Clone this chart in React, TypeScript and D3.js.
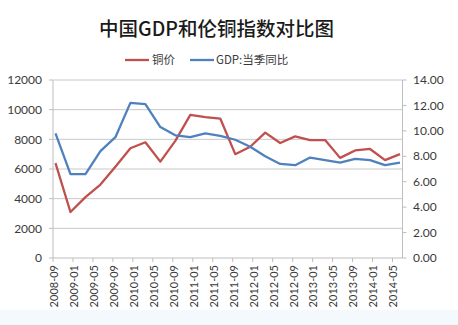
import React from "react";
import * as d3 from "d3";

const title = "中国GDP和伦铜指数对比图";
const seriesNames = ["铜价", "GDP:当季同比"];
const dates = [
  "2008-09", "2008-12", "2009-03", "2009-06", "2009-09", "2009-12",
  "2010-03", "2010-06", "2010-09", "2010-12", "2011-03", "2011-06",
  "2011-09", "2011-12", "2012-03", "2012-06", "2012-09", "2012-12",
  "2013-03", "2013-06", "2013-09", "2013-12", "2014-03", "2014-06",
];
const copper = [
  6400, 3100, 4100, 4950, 6150, 7400, 7800, 6500, 7900, 9650, 9500, 9400,
  7000, 7500, 8450, 7750, 8200, 7950, 7950, 6750, 7250, 7350, 6600, 7000,
];
const gdp = [
  9.8, 6.6, 6.6, 8.4, 9.5, 12.2, 12.1, 10.3, 9.65, 9.5, 9.8, 9.6,
  9.3, 8.75, 8.0, 7.4, 7.3, 7.9, 7.7, 7.5, 7.8, 7.7, 7.3, 7.5,
];
const xTickLabels = [
  "2008-09", "2009-01", "2009-05", "2009-09", "2010-01", "2010-05",
  "2010-09", "2011-01", "2011-05", "2011-09", "2012-01", "2012-05",
  "2012-09", "2013-01", "2013-05", "2013-09", "2014-01", "2014-05",
];
const leftTicks = [0, 2000, 4000, 6000, 8000, 10000, 12000];
const rightTicks = [0, 2, 4, 6, 8, 10, 12, 14];

const START = "2008-09";
const END = "2014-07";
const monthIndex = (s: string) => {
  const [y, m] = s.split("-").map(Number);
  const [y0, m0] = START.split("-").map(Number);
  return (y - y0) * 12 + (m - m0);
};

const RED = "#C0504D";
const BLUE = "#4F81BD";
const TEXT = "#3a3a3a";
const GRID = "#c8c8c8";
const AXIS = "#bdbdbd";
const NUMFONT = "Lato, 'Open Sans', sans-serif";
const CJKFONT = "'Noto Sans CJK SC', 'Noto Sans', sans-serif";

export default function App() {
  const W = 458, H = 325;
  const left = 53, right = 402.5, top = 80, bottom = 258;

  const x = d3.scaleLinear().domain([0, monthIndex(END)]).range([left, right]);
  const yL = d3.scaleLinear().domain([0, 12000]).range([bottom, top]);
  const yR = d3.scaleLinear().domain([0, 14]).range([bottom, top]);

  const px = (d: string) => x(monthIndex(d) + 0.5);
  const lineL = d3.line<number>().x((_, i) => px(dates[i])).y((v) => yL(v));
  const lineR = d3.line<number>().x((_, i) => px(dates[i])).y((v) => yR(v));

  return (
    <svg width={W} height={H} style={{ position: "absolute", left: 0, top: 0, background: "#fff" }}>
      <rect x={0} y={310} width={W} height={15} fill="#f4f9fe" />
      <text x={216.5} y={36} textAnchor="middle" fontFamily={CJKFONT} fontWeight={500}
        fontSize={19.5} fill="#1a1a1a">{title}</text>

      {/* legend */}
      <line x1={125} x2={149} y1={60} y2={60} stroke={RED} strokeWidth={2.3} />
      <text x={152} y={64} fontFamily={CJKFONT} fontSize={11.5} fill={TEXT}>{seriesNames[0]}</text>
      <line x1={190} x2={214} y1={60} y2={60} stroke={BLUE} strokeWidth={2.3} />
      <text x={216} y={64} fontFamily={CJKFONT} fontSize={11.5} fill={TEXT}>{seriesNames[1]}</text>

      {/* grid */}
      {leftTicks.map((t) => (
        <line key={"g" + t} x1={left} x2={right} y1={yL(t)} y2={yL(t)} stroke={t === 0 ? AXIS : GRID} strokeWidth={1} />
      ))}

      {/* left axis */}
      <line x1={left} x2={left} y1={top} y2={bottom} stroke={AXIS} />
      {leftTicks.map((t) => (
        <g key={"l" + t}>
          <line x1={left - 4} x2={left} y1={yL(t)} y2={yL(t)} stroke={AXIS} />
          <text x={42} y={yL(t)} dy="0.35em" textAnchor="end" fontFamily={NUMFONT} fontSize={12} fill={TEXT}>{t}</text>
        </g>
      ))}

      {/* right axis */}
      <line x1={right} x2={right} y1={top} y2={bottom} stroke={AXIS} />
      {rightTicks.map((t) => (
        <g key={"r" + t}>
          <line x1={right} x2={right + 4} y1={yR(t)} y2={yR(t)} stroke={AXIS} />
          <text x={413} y={yR(t)} dy="0.35em" textAnchor="start" fontFamily={NUMFONT} fontSize={12} fill={TEXT}>{t.toFixed(2)}</text>
        </g>
      ))}

      {/* x axis */}
      {xTickLabels.map((s) => {
        const xx = x(monthIndex(s));
        return (
          <g key={"x" + s}>
            <line x1={xx} x2={xx} y1={bottom} y2={bottom + 4} stroke={AXIS} />
            <text transform={`translate(${xx + 1},${bottom + 7}) rotate(-90)`} dy="0.35em" textAnchor="end"
              fontFamily={NUMFONT} fontSize={11} fill={TEXT}>{s}</text>
          </g>
        );
      })}

      <path d={lineL(copper) || ""} fill="none" stroke={RED} strokeWidth={2.3} strokeLinejoin="round" />
      <path d={lineR(gdp) || ""} fill="none" stroke={BLUE} strokeWidth={2.3} strokeLinejoin="round" />
    </svg>
  );
}
